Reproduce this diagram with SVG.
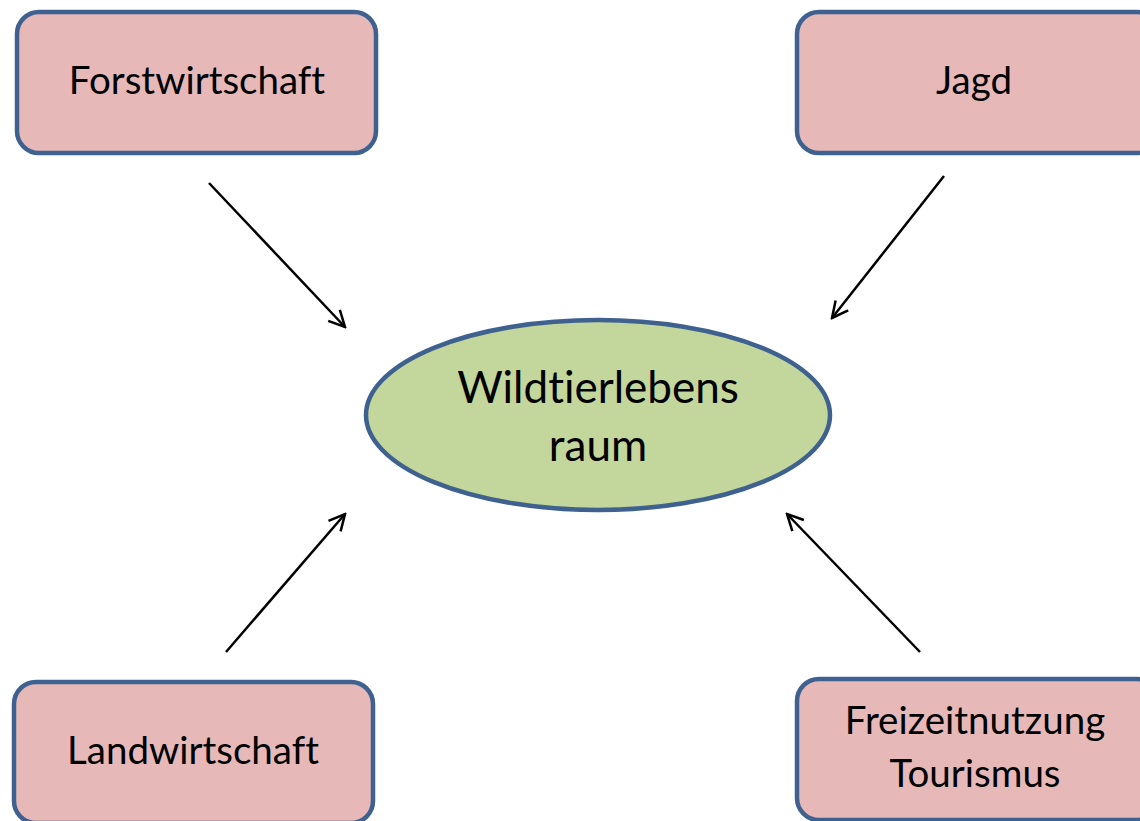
<svg xmlns="http://www.w3.org/2000/svg" width="1140" height="821" viewBox="0 0 1140 821">
<defs>
<marker id="arr" viewBox="0 0 20 20" refX="18" refY="10" markerWidth="20" markerHeight="20" markerUnits="userSpaceOnUse" orient="auto">
<path d="M2,2 L18,10 L2,18" fill="none" stroke="#000" stroke-width="2.5"/>
</marker>
<style>
.box{fill:#E6B9B8;stroke:#3F6190;stroke-width:4.5}
.ell{fill:#C3D69B;stroke:#3F6190;stroke-width:4.5}
.t{font-family:Lato,"Open Sans",sans-serif;font-size:38.5px;fill:#000;text-anchor:middle;font-variant-ligatures:none;font-feature-settings:"liga" 0}
.tb{font-family:Lato,"Open Sans",sans-serif;font-size:44px;fill:#000;text-anchor:middle;font-variant-ligatures:none;font-feature-settings:"liga" 0}
.c{stroke:#000;stroke-width:2.5;fill:none;marker-end:url(#arr)}
</style>
</defs>
<rect width="1140" height="821" fill="#fff"/>
<g id="connectors">
<line class="c" x1="209" y1="183" x2="345" y2="327"/>
<line class="c" x1="944" y1="176" x2="832" y2="318"/>
<line class="c" x1="226" y1="652" x2="345" y2="514"/>
<line class="c" x1="920" y1="652" x2="787" y2="514"/>
</g>
<g id="forstwirtschaft">
<rect class="box" x="17" y="12" width="359" height="141" rx="22"/>
<text class="t" x="197" y="94">Forstwirtschaft</text>
</g>
<g id="jagd">
<rect class="box" x="797" y="12" width="362" height="141" rx="22"/>
<text class="t" x="974" y="94">Jagd</text>
</g>
<g id="landwirtschaft">
<rect class="box" x="14" y="682" width="359" height="141" rx="22"/>
<text class="t" x="193" y="764">Landwirtschaft</text>
</g>
<g id="freizeitnutzung">
<rect class="box" x="797" y="679" width="362" height="141" rx="22"/>
<text class="t" x="975" y="734">Freizeitnutzung</text>
<text class="t" x="975" y="787">Tourismus</text>
</g>
<g id="wildtierlebensraum">
<ellipse class="ell" cx="598" cy="415" rx="232" ry="95"/>
<text class="tb" x="598" y="403">Wildtierlebens</text>
<text class="tb" x="598" y="461">raum</text>
</g>
</svg>
